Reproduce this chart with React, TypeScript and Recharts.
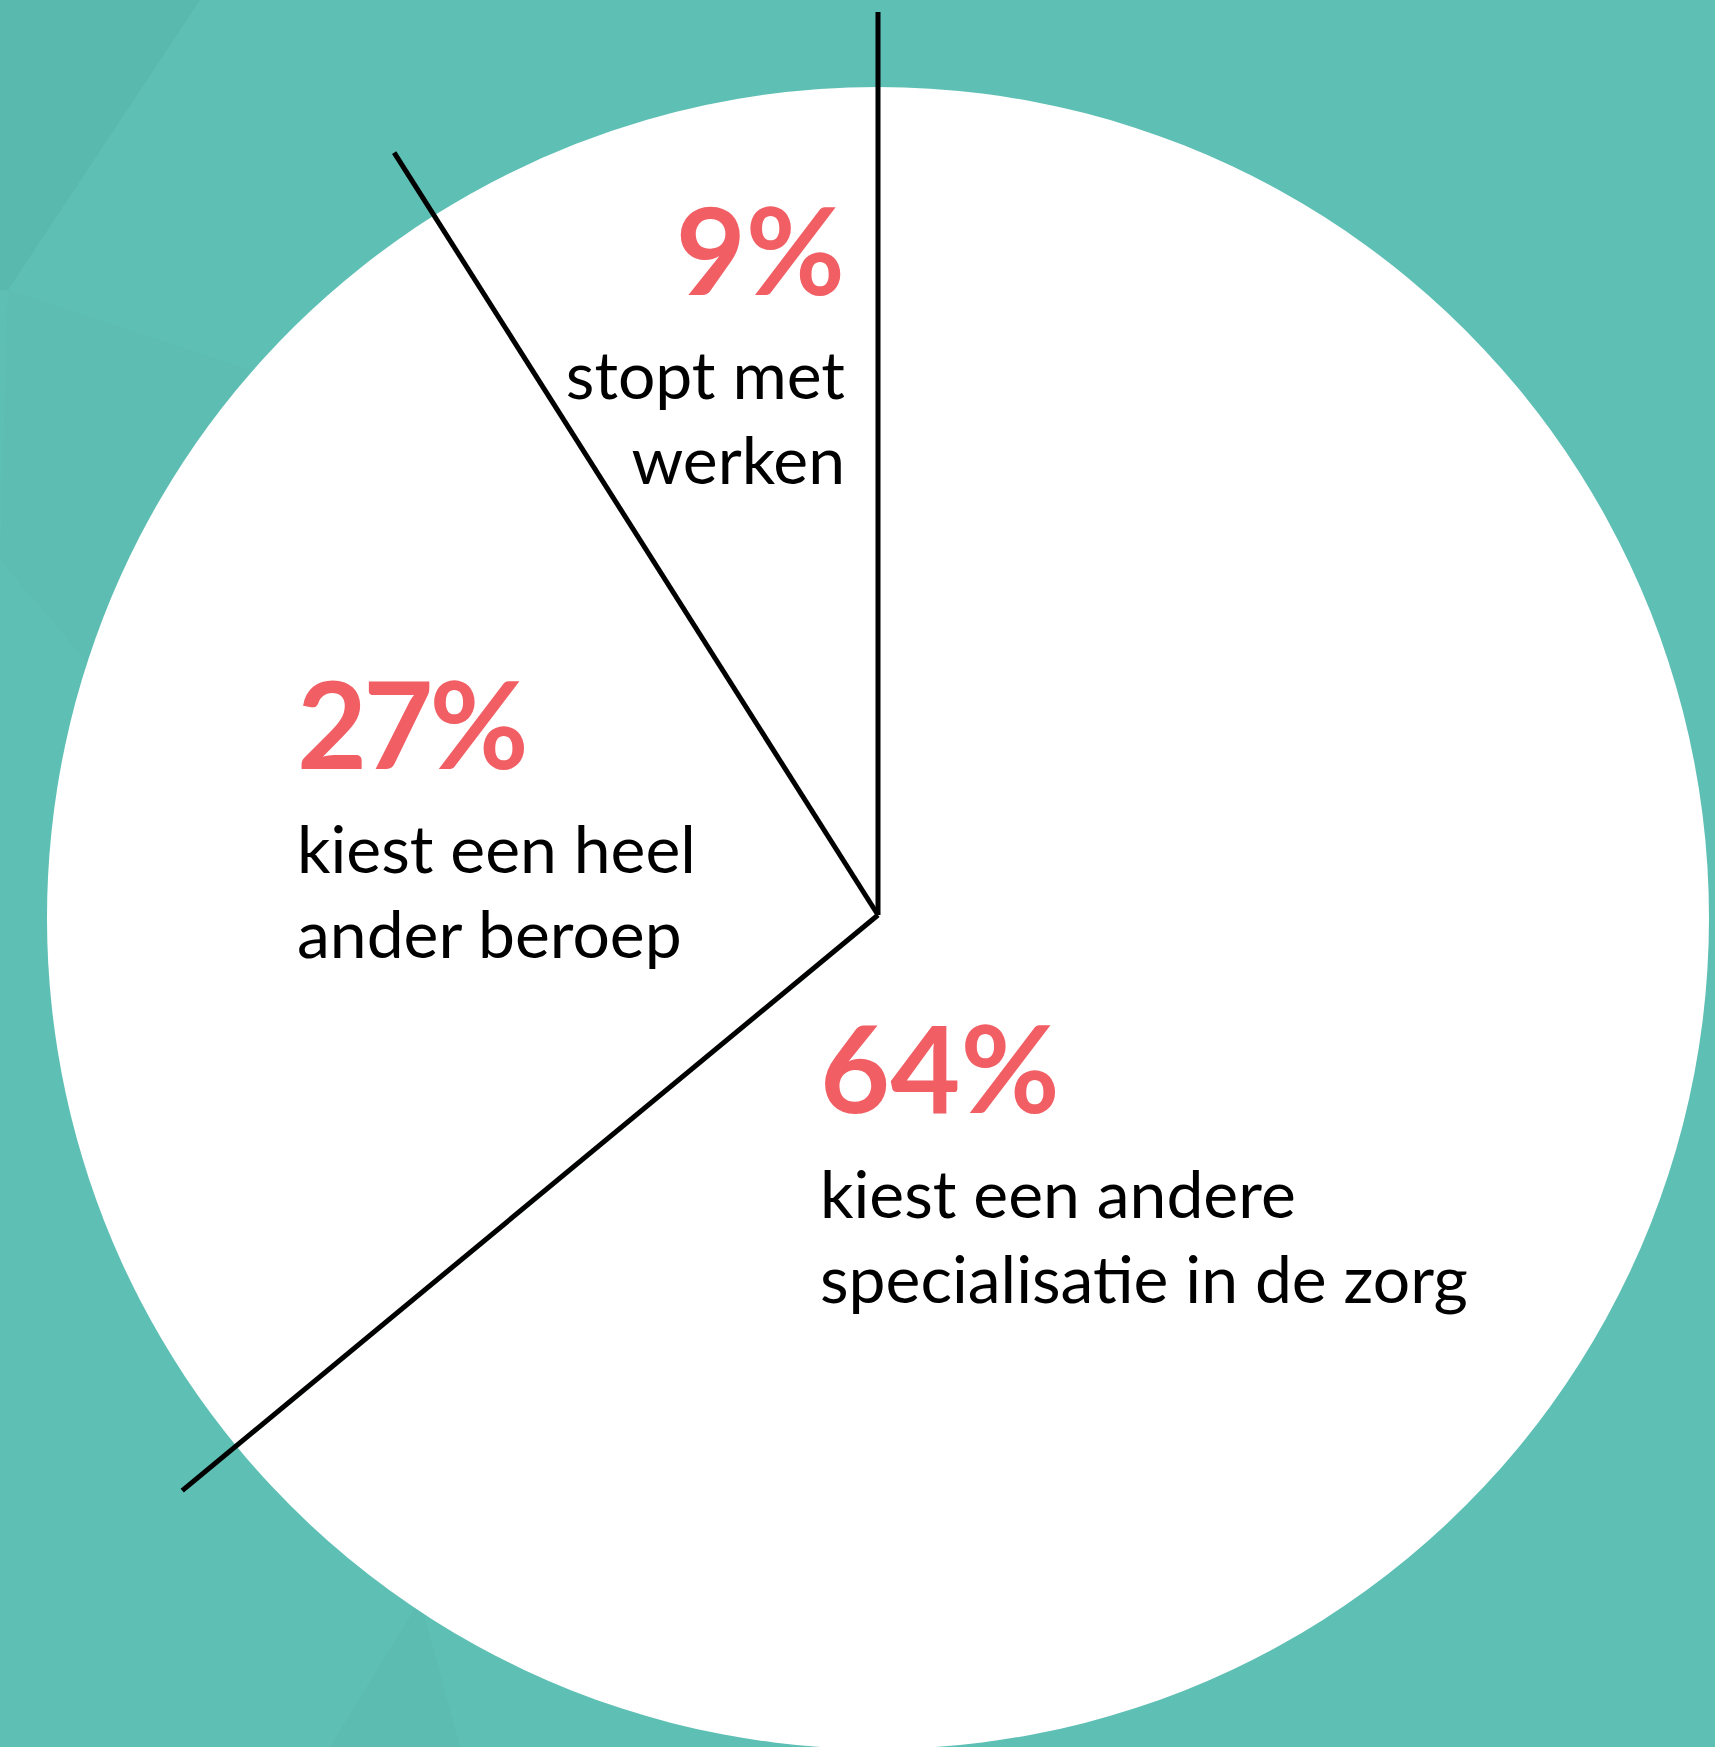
import { PieChart, Pie, Cell } from 'recharts';

const categories = ['stopt met werken', 'kiest een heel ander beroep', 'kiest een andere specialisatie in de zorg'];
const shares = [9, 27, 64];
const labelLines = [
  ['stopt met', 'werken'],
  ['kiest een heel', 'ander beroep'],
  ['kiest een andere', 'specialisatie in de zorg'],
];

const data = categories.map((name, i) => ({ name, value: shares[i] }));

const W = 1715;
const H = 1747;
const CX = 878;
const CY = 918;
const R = 831;

const TEAL = '#5ebfb4';
const RED = '#f15f65';
const FONT = 'Lato, "Open Sans", sans-serif';

// label placement relative to the point where the separators meet
const labelPos = [
  { dx: -33, anchor: 'end', pct: -620, l1: -516, l2: -431, ls: 0 },
  { dx: -581, anchor: 'start', pct: -146, l1: -42, l2: 43, ls: -4 },
  { dx: -58, anchor: 'start', pct: 198, l1: 303, l2: 388, ls: 0 },
];

const RAD = Math.PI / 180;

const renderLabel = (props: any) => {
  const { index, startAngle, value } = props;
  const cx = props.cx ?? CX;
  const cy = (props.cy ?? CY) - 3;
  const outer = props.outerRadius ?? R;
  const len = outer + 72;
  const x2 = cx + len * Math.cos(-startAngle * RAD);
  const y2 = cy + len * Math.sin(-startAngle * RAD);
  const p = labelPos[index];
  const tx = cx + p.dx;
  return (
    <g key={'lbl' + index}>
      <line x1={cx} y1={cy} x2={x2} y2={y2} stroke="#000" strokeWidth={5} />
      <text x={tx} y={cy + p.pct} textAnchor={p.anchor} fill={RED} fontFamily={FONT} fontWeight={700} fontSize={121} letterSpacing={p.ls}>
        {value}%
      </text>
      <text x={tx} y={cy + p.l1} textAnchor={p.anchor} fill="#000" fontFamily={FONT} fontSize={66}>
        {labelLines[index][0]}
      </text>
      <text x={tx} y={cy + p.l2} textAnchor={p.anchor} fill="#000" fontFamily={FONT} fontSize={66}>
        {labelLines[index][1]}
      </text>
    </g>
  );
};

const App = () => {
  return (
    <div style={{ position: 'absolute', left: 0, top: 0, width: W, height: H, background: TEAL, overflow: 'hidden' }}>
      <svg width={W} height={H} style={{ position: 'absolute', left: 0, top: 0 }}>
        <polygon points="0,0 200,0 8,290 0,290" fill="#5ab9ae" />
        <polygon points="8,290 250,370 120,700 0,560" fill="#5dbdb2" />
        <polygon points="420,1600 460,1747 330,1747" fill="#5cbcb1" />
      </svg>
      <div style={{ position: 'absolute', left: 0, top: 0 }}>
        <PieChart width={W} height={H} margin={{ top: 0, right: 0, bottom: 0, left: 0 }}>
          <Pie
            data={data}
            dataKey="value"
            nameKey="name"
            cx={CX}
            cy={CY}
            outerRadius={R}
            startAngle={90}
            endAngle={450}
            stroke="none"
            label={renderLabel}
            labelLine={false}
            isAnimationActive={false}
          >
            {data.map((d) => (
              <Cell key={d.name} fill="#ffffff" />
            ))}
          </Pie>
        </PieChart>
      </div>
    </div>
  );
};

export default App;
